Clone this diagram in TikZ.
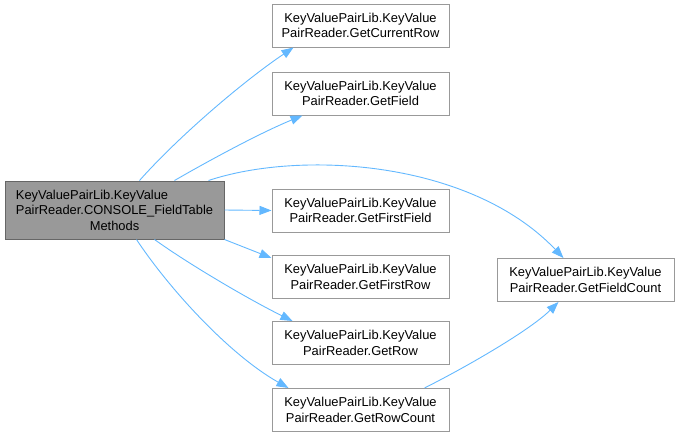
\documentclass[tikz,border=0pt]{standalone}
\usepackage{fontspec}
\setmainfont{Liberation Sans}
\usetikzlibrary{arrows.meta}
\definecolor{edgeblue}{HTML}{63B8FF}
\definecolor{boxgray}{HTML}{999999}
\definecolor{boxdark}{HTML}{666666}
\newlength\mainlinew

\begin{document}
\begin{tikzpicture}[x=1pt, y=-1pt,
    every node/.style={font=\fontsize{12.9}{15.5}\selectfont, align=center, inner sep=0pt},
    fn/.style={draw=boxgray, fill=white, line width=1pt, minimum width=177pt, minimum height=43pt},
    caller/.style={draw=boxdark, fill=boxgray, line width=1pt, minimum width=219pt, minimum height=58pt},
    call/.style={-{Triangle[length=12pt,width=9pt]}, edgeblue, line width=0.9pt}]
    \useasboundingbox (0,0) rectangle (680,437);

    % aufrufende Methode
    \node[caller] (main) at (114.5,210) {\settowidth{\mainlinew}{PairReader.CONSOLE\_FieldTable}\makebox[\mainlinew][l]{KeyValuePairLib.KeyValue}\\PairReader.CONSOLE\_FieldTable\\Methods};

    % aufgerufene Methoden
    \node[fn] (cur) at (360.5,25.5) {KeyValuePairLib.KeyValue\\PairReader.GetCurrentRow};
    \node[fn] (fld) at (360.5,93.5) {KeyValuePairLib.KeyValue\\PairReader.GetField};
    \node[fn] (ffl) at (360.5,210.5) {KeyValuePairLib.KeyValue\\PairReader.GetFirstField};
    \node[fn] (frw) at (360.5,277) {KeyValuePairLib.KeyValue\\PairReader.GetFirstRow};
    \node[fn] (row) at (360.5,343) {KeyValuePairLib.KeyValue\\PairReader.GetRow};
    \node[fn] (rcn) at (360.5,410) {KeyValuePairLib.KeyValue\\PairReader.GetRowCount};
    \node[fn] (fcn) at (585.5,280) {KeyValuePairLib.KeyValue\\PairReader.GetFieldCount};

    % Aufrufkanten
    \draw[call] ([xshift=135pt]main.north west) .. controls (180,135) and (245,80) .. ([xshift=-67pt]cur.south);
    \draw[call] ([xshift=170pt]main.north west) .. controls (210,160) and (260,133) .. ([xshift=-58pt]fld.south);
    \draw[call] ([xshift=204pt]main.north west) .. controls (300,150) and (470,160) .. ([xshift=-22pt]fcn.north);
    \draw[call] (main.east) -- (ffl.west);
    \draw[call] (main.south east) -- ([yshift=-3pt]frw.north west);
    \draw[call] ([xshift=150pt]main.south west) .. controls (190,265) and (250,300) .. ([xshift=-68pt]row.north);
    \draw[call] ([xshift=132pt]main.south west) .. controls (170,290) and (230,355) .. ([xshift=-72pt]rcn.north);
    \draw[call] ([xshift=64pt]rcn.north) .. controls (470,365) and (530,330) .. ([xshift=-27pt]fcn.south);
\end{tikzpicture}
\end{document}
